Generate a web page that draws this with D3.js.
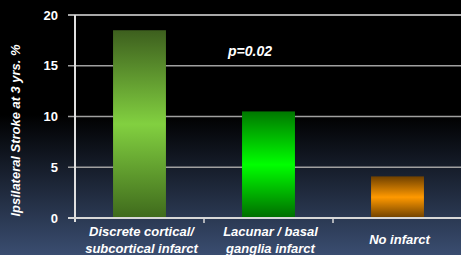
<!DOCTYPE html>
<html lang="en">
<head>
<meta charset="UTF-8">
<title>Ipsilateral Stroke</title>
<script src="https://d3js.org/d3.v7.min.js"></script>
<style>
    body { margin: 0; background: #000; }
    svg { display: block; font-family: "Liberation Sans", Arial, sans-serif; }
</style>
</head>
<body>
<div id="chart"></div>
<script>
    const categories = [["Discrete cortical/", "subcortical infarct"], ["Lacunar / basal", "ganglia infarct"], ["No infarct"]];
    const values = [18.5, 10.5, 4.1];
    const yTicks = [0, 5, 10, 15, 20];
    const barColors = [
        ["#3d5f1e", "#82d040", "#3f6a1c"],
        ["#007800", "#00ff00", "#006c00"],
        ["#6e4000", "#ff9900", "#6e4000"]
    ];
    const yTitle = "Ipsilateral Stroke at 3 yrs. %";
    const pLabel = "p=0.02";

    const width = 461, height = 255;
    const margin = {left: 75, top: 15, right: -1, bottom: 37};

    const svg = d3.select("#chart").append("svg")
        .attr("width", width).attr("height", height);

    const defs = svg.append("defs");
    const bg = defs.append("linearGradient").attr("id", "bg")
        .attr("x1", 0).attr("y1", 0).attr("x2", 0).attr("y2", 1);
    bg.append("stop").attr("offset", "0%").attr("stop-color", "#000");
    bg.append("stop").attr("offset", "45%").attr("stop-color", "#000");
    bg.append("stop").attr("offset", "100%").attr("stop-color", "#3a4d70");
    svg.append("rect").attr("width", width).attr("height", height).attr("fill", "url(#bg)");

    barColors.forEach((c, i) => {
        const g = defs.append("linearGradient").attr("id", "bar" + i)
            .attr("x1", 0).attr("y1", 0).attr("x2", 0).attr("y2", 1);
        g.append("stop").attr("offset", "0%").attr("stop-color", c[0]);
        g.append("stop").attr("offset", "50%").attr("stop-color", c[1]);
        g.append("stop").attr("offset", "100%").attr("stop-color", c[2]);
    });

    const x = d3.scaleBand()
        .domain(d3.range(categories.length))
        .range([margin.left, width - margin.right])
        .paddingInner(0.59).paddingOuter(0.295);

    const y = d3.scaleLinear().domain([0, 20]).range([height - margin.bottom, margin.top]);

    // gridlines
    svg.append("g").selectAll("line").data(yTicks.filter(d => d > 0)).join("line")
        .attr("x1", margin.left - 7).attr("x2", width)
        .attr("y1", d => y(d)).attr("y2", d => y(d))
        .attr("stroke", d => d === 20 ? "#e0e0e0" : "#a0a0a0")
        .attr("stroke-width", 1.5);

    // y tick labels
    svg.append("g").selectAll("text").data(yTicks).join("text")
        .attr("x", 58).attr("y", d => y(d)).attr("dy", "0.35em")
        .attr("text-anchor", "end")
        .attr("fill", "#fff").attr("font-weight", "bold").attr("font-size", 13)
        .text(d => d);

    // bars
    svg.append("g").selectAll("rect").data(values).join("rect")
        .attr("x", (d, i) => x(i))
        .attr("width", x.bandwidth())
        .attr("y", d => y(d))
        .attr("height", d => y(0) - y(d))
        .attr("fill", (d, i) => `url(#bar${i})`);

    // axes lines
    svg.append("line")
        .attr("x1", margin.left).attr("x2", margin.left)
        .attr("y1", y(20)).attr("y2", y(0) + 4)
        .attr("stroke", "#e0e0e0").attr("stroke-width", 2);
    svg.append("line")
        .attr("x1", margin.left - 7).attr("x2", width)
        .attr("y1", y(0)).attr("y2", y(0))
        .attr("stroke", "#d8d8d8").attr("stroke-width", 2);
    svg.append("g").selectAll("line").data(d3.range(1, categories.length + 1)).join("line")
        .attr("x1", i => margin.left + i * x.step()).attr("x2", i => margin.left + i * x.step())
        .attr("y1", y(0)).attr("y2", y(0) + 5)
        .attr("stroke", "#d8d8d8").attr("stroke-width", 1.5);

    // category labels
    const cat = svg.append("g").selectAll("text").data(categories).join("text")
        .attr("text-anchor", "middle")
        .attr("fill", "#fff").attr("font-weight", "bold").attr("font-style", "italic")
        .attr("font-size", 13)
        .attr("transform", (d, i) => `translate(${x(i) + x.bandwidth() / 2 + 2},${d.length > 1 ? 236 : 244})`);
    cat.selectAll("tspan").data(d => d).join("tspan")
        .attr("x", 0).attr("dy", (d, j) => j === 0 ? 0 : 17)
        .text(d => d);

    // y title
    svg.append("text")
        .attr("transform", `translate(20,${(y(0) + y(20)) / 2 + 14}) rotate(-90)`)
        .attr("text-anchor", "middle")
        .attr("fill", "#fff").attr("font-weight", "bold").attr("font-style", "italic")
        .attr("font-size", 12)
        .attr("textLength", 172).attr("lengthAdjust", "spacingAndGlyphs")
        .text(yTitle);

    // p value
    svg.append("text")
        .attr("x", 250).attr("y", y(16))
        .attr("text-anchor", "middle")
        .attr("fill", "#fff").attr("font-weight", "bold").attr("font-style", "italic")
        .attr("font-size", 14)
        .text(pLabel);
</script>
</body>
</html>
